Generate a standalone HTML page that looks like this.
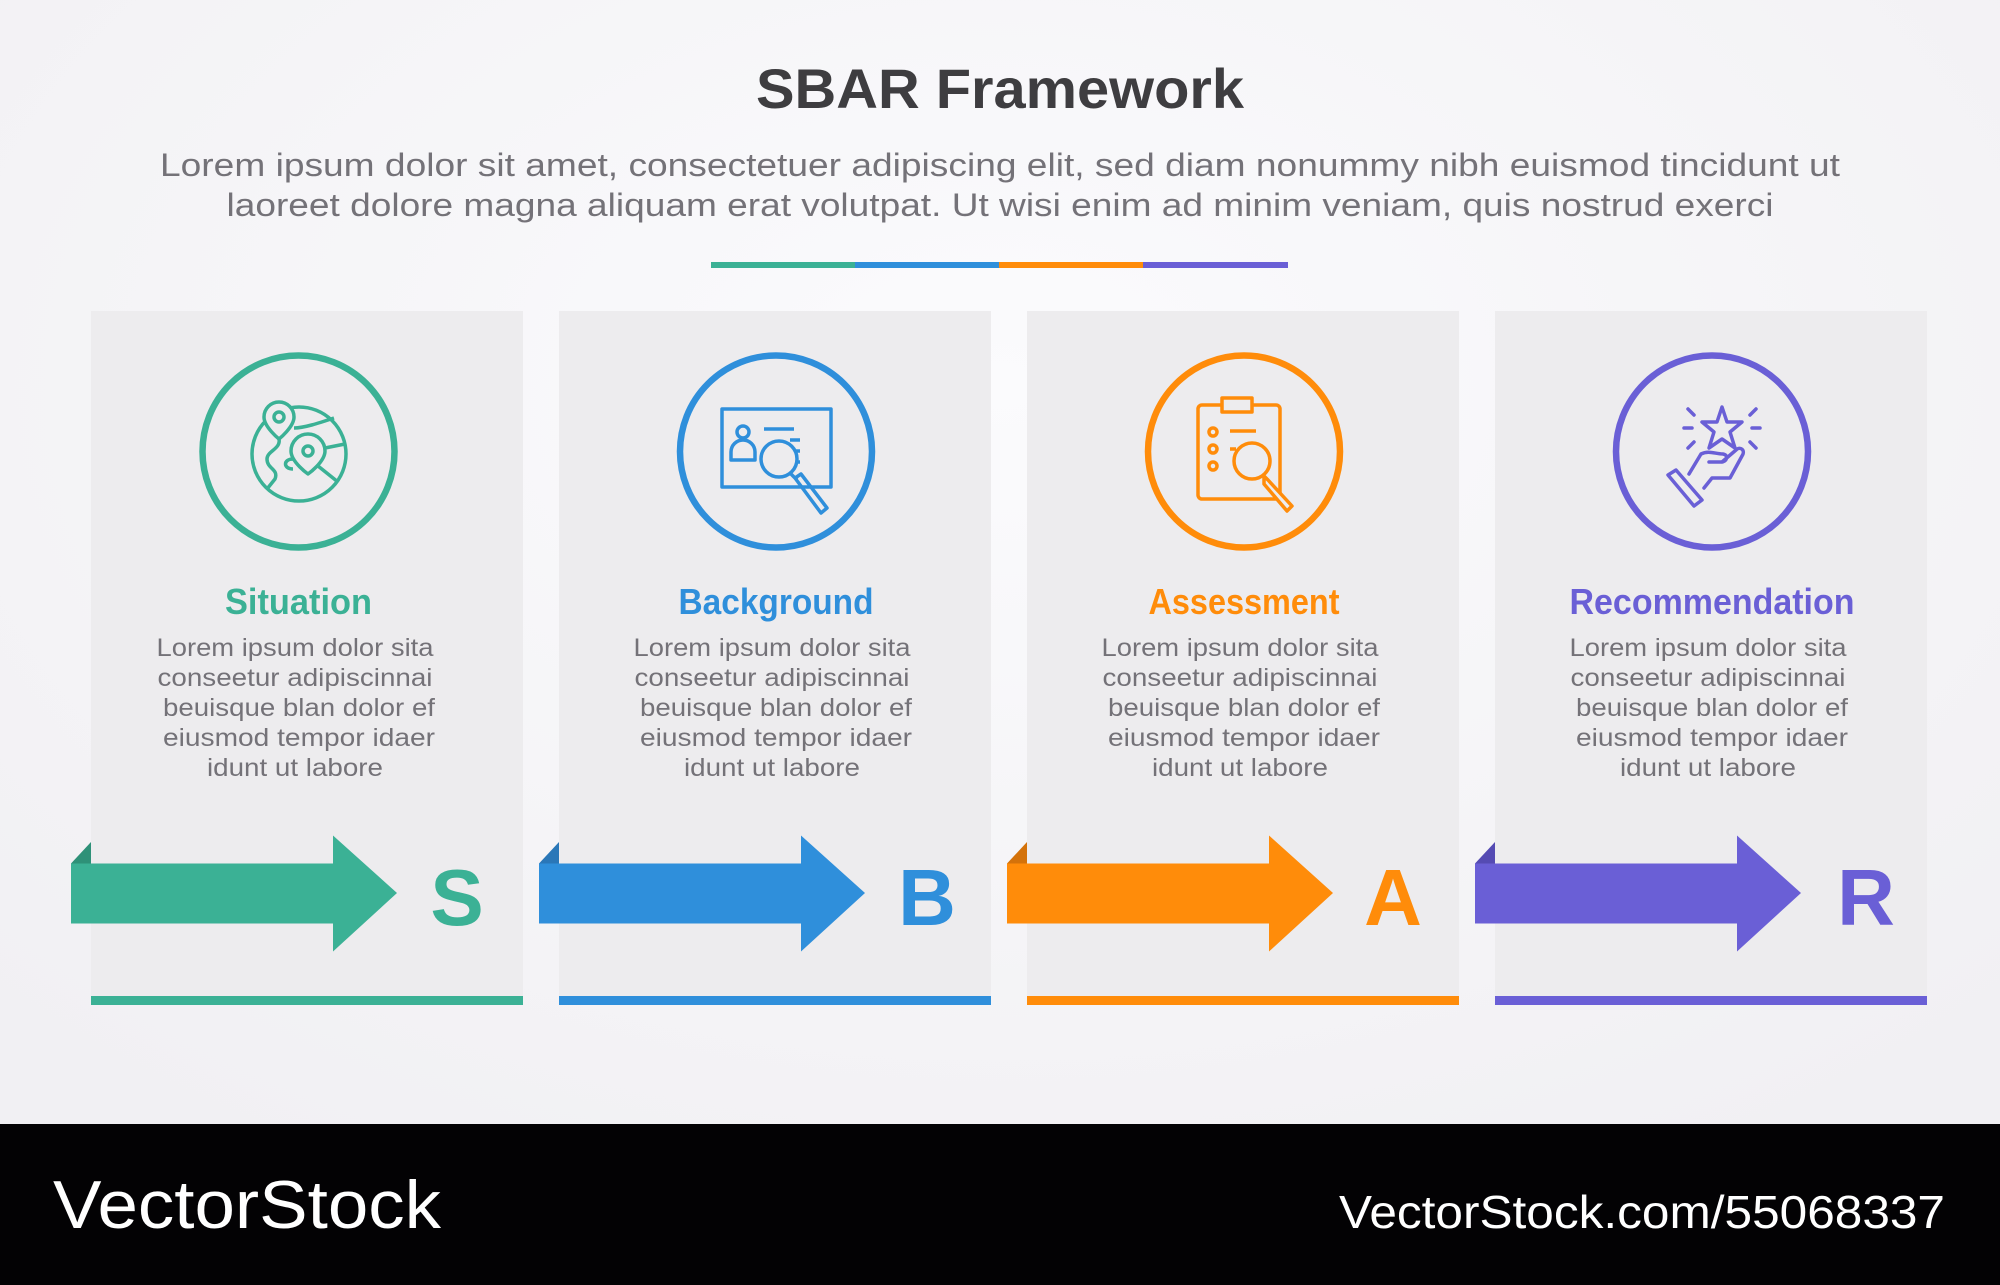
<!DOCTYPE html>
<html><head><meta charset="utf-8"><style>
html,body{margin:0;padding:0;width:2000px;height:1285px;overflow:hidden;background:#f7f7f9}
svg{display:block}
text{font-family:"Liberation Sans",sans-serif}
</style></head><body>
<svg width="2000" height="1285" viewBox="0 0 2000 1285" xmlns="http://www.w3.org/2000/svg">
<defs>
<radialGradient id="bg" cx="0.5" cy="0.3" r="0.7">
<stop offset="0" stop-color="#fbfbfd"/><stop offset="1" stop-color="#f1f0f3"/>
</radialGradient>
</defs>
<rect width="2000" height="1285" fill="url(#bg)"/>
<text x="1000" y="108" text-anchor="middle" font-size="56" font-weight="bold" fill="#3e3d40" textLength="488" lengthAdjust="spacingAndGlyphs">SBAR Framework</text>
<text x="1000" y="176" text-anchor="middle" font-size="32" fill="#747278" textLength="1680" lengthAdjust="spacingAndGlyphs">Lorem ipsum dolor sit amet, consectetuer adipiscing elit, sed diam nonummy nibh euismod tincidunt ut</text>
<text x="1000" y="216" text-anchor="middle" font-size="32" fill="#747278" textLength="1547" lengthAdjust="spacingAndGlyphs">laoreet dolore magna aliquam erat volutpat. Ut wisi enim ad minim veniam, quis nostrud exerci</text>
<rect x="711" y="262" width="145" height="6" fill="#3bb195"/>
<rect x="855" y="262" width="145" height="6" fill="#2f8fdb"/>
<rect x="999" y="262" width="145" height="6" fill="#ff8c0a"/>
<rect x="1143" y="262" width="145" height="6" fill="#6a5fd6"/>

<rect x="91" y="311" width="432" height="692" fill="#edecee"/>
<rect x="559" y="311" width="432" height="692" fill="#edecee"/>
<rect x="1027" y="311" width="432" height="692" fill="#edecee"/>
<rect x="1495" y="311" width="432" height="692" fill="#edecee"/>
<rect x="91" y="996" width="432" height="9" fill="#3bb195"/>
<rect x="559" y="996" width="432" height="9" fill="#2f8fdb"/>
<rect x="1027" y="996" width="432" height="9" fill="#ff8c0a"/>
<rect x="1495" y="996" width="432" height="9" fill="#6a5fd6"/>

<circle cx="298.5" cy="451.5" r="96" fill="none" stroke="#3bb195" stroke-width="6.5"/>
<circle cx="776" cy="451.5" r="96" fill="none" stroke="#2f8fdb" stroke-width="6.5"/>
<circle cx="1244" cy="451.5" r="96" fill="none" stroke="#ff8c0a" stroke-width="6.5"/>
<circle cx="1712" cy="451.5" r="96" fill="none" stroke="#6a5fd6" stroke-width="6.5"/>

<g fill="none" stroke="#3bb195" stroke-width="3.5" stroke-linejoin="round">
<circle cx="299" cy="454" r="47"/>
<path d="M279 402 a15 15 0 0 1 15 15 c0 10 -15 22 -15 22 c0 0 -15 -12 -15 -22 a15 15 0 0 1 15 -15z" fill="#edecee"/>
<circle cx="279" cy="417" r="5"/>
<path d="M308 434 a17 17 0 0 1 17 17 c0 11 -17 23 -17 23 c0 0 -17 -12 -17 -23 a17 17 0 0 1 17 -17z" fill="#edecee"/>
<circle cx="308" cy="451" r="5"/>
<path d="M279 439 c2 10 -12 12 -12 20 c0 10 12 10 8 20 l-8 10"/>
<path d="M294 428 c10 0 25 -5 40 -10"/>
<path d="M325 448 l20 -4"/>
<path d="M318 466 l20 16"/>
<path d="M293 459 c-10 0 -10 10 0 10"/>
</g>
<g fill="none" stroke="#2f8fdb" stroke-width="3.5" stroke-linejoin="round">
<rect x="722" y="409" width="109" height="78" fill="#edecee"/>
<circle cx="743" cy="432" r="6"/>
<path d="M731 460 v-8 a12 12 0 0 1 24 0 v8 z"/>
<path d="M764 429 h30 M790 440 h10 M790 451 h10 M790 462 h10"/>
<circle cx="779" cy="459" r="18" fill="#edecee"/>
<path d="M791 474 l6 6 M795 478 l6 -4 l26 34 l-6 5 l-26 -35 z"/>
</g>
<g fill="none" stroke="#ff8c0a" stroke-width="3.5" stroke-linejoin="round">
<rect x="1198" y="405" width="82" height="94" rx="4"/>
<rect x="1222" y="398" width="30" height="14" fill="#edecee"/>
<circle cx="1213" cy="432" r="4"/><circle cx="1213" cy="449" r="4"/><circle cx="1213" cy="466" r="4"/>
<path d="M1230 431 h26 M1230 449 h6"/>
<circle cx="1252" cy="461" r="18" fill="#edecee"/>
<path d="M1264 476 l4 4 l24 26 l-5 5 l-23 -27 z" fill="#edecee"/>
</g>
<g fill="none" stroke="#6a5fd6" stroke-width="3.5" stroke-linejoin="round" stroke-linecap="round">
<path d="M1722 407 l5 15 l15 0 l-12 10 l5 16 l-13 -9 l-13 9 l5 -16 l-12 -10 l15 0 z"/>
<path d="M1688 409 l6 6 M1756 409 l-6 6 M1684 428 h8 M1752 428 h8 M1688 448 l6 -6 M1756 448 l-6 -6"/>
<path d="M1689 474 l12 -20 c8 -4 14 0 22 0 c6 1 4 8 -2 8 h-12 M1722 462 l14 -12 c4 -4 10 0 6 6 l-12 22 h-18 l-8 10"/>
<path d="M1668 475 l8 -5 l26 30 l-8 6 z"/>
</g>

<g font-weight="bold" font-size="36" text-anchor="middle">
<text x="298.5" y="614" fill="#3bb195" textLength="147" lengthAdjust="spacingAndGlyphs">Situation</text>
<text x="776" y="614" fill="#2f8fdb" textLength="195" lengthAdjust="spacingAndGlyphs">Background</text>
<text x="1244" y="614" fill="#ff8c0a" textLength="191" lengthAdjust="spacingAndGlyphs">Assessment</text>
<text x="1712" y="614" fill="#6a5fd6" textLength="285" lengthAdjust="spacingAndGlyphs">Recommendation</text>
</g>
<g font-size="25" fill="#747278" text-anchor="middle">
<g id="b1">
<text x="295" y="656" textLength="277" lengthAdjust="spacingAndGlyphs">Lorem ipsum dolor sita</text>
<text x="295" y="686" textLength="275" lengthAdjust="spacingAndGlyphs">conseetur adipiscinnai</text>
<text x="299" y="716" textLength="272" lengthAdjust="spacingAndGlyphs">beuisque blan dolor ef</text>
<text x="299" y="746" textLength="272" lengthAdjust="spacingAndGlyphs">eiusmod tempor idaer</text>
<text x="295" y="776" textLength="176" lengthAdjust="spacingAndGlyphs">idunt ut labore</text>
</g>
<use href="#b1" x="477"/>
<use href="#b1" x="945"/>
<use href="#b1" x="1413"/>
</g>

<path d="M71 863.5 L91 842 L91 863.5 Z" fill="#2e9178"/>
<path d="M71 863.5 H333 V835.5 L397 893 L333 951.5 V923.5 H71 Z" fill="#3bb195"/>
<path d="M539 863.5 L559 842 L559 863.5 Z" fill="#2a77b8"/>
<path d="M539 863.5 H801 V835.5 L865 893 L801 951.5 V923.5 H539 Z" fill="#2f8fdb"/>
<path d="M1007 863.5 L1027 842 L1027 863.5 Z" fill="#d4720a"/>
<path d="M1007 863.5 H1269 V835.5 L1333 893 L1269 951.5 V923.5 H1007 Z" fill="#ff8c0a"/>
<path d="M1475 863.5 L1495 842 L1495 863.5 Z" fill="#554bb3"/>
<path d="M1475 863.5 H1737 V835.5 L1801 893 L1737 951.5 V923.5 H1475 Z" fill="#6a5fd6"/>

<g font-weight="bold" font-size="80" text-anchor="middle">
<text x="457" y="925" fill="#3bb195">S</text>
<text x="927" y="925" fill="#2f8fdb">B</text>
<text x="1393" y="925" fill="#ff8c0a">A</text>
<text x="1866" y="925" fill="#6a5fd6">R</text>
</g>

<rect x="0" y="1124" width="2000" height="161" fill="#030204"/>
<text x="53" y="1228" font-size="68" fill="#ffffff" textLength="388" lengthAdjust="spacingAndGlyphs">VectorStock</text>
<text x="1339" y="1228" font-size="46" fill="#ffffff" textLength="606" lengthAdjust="spacingAndGlyphs">VectorStock.com/55068337</text>
</svg>
</body></html>
